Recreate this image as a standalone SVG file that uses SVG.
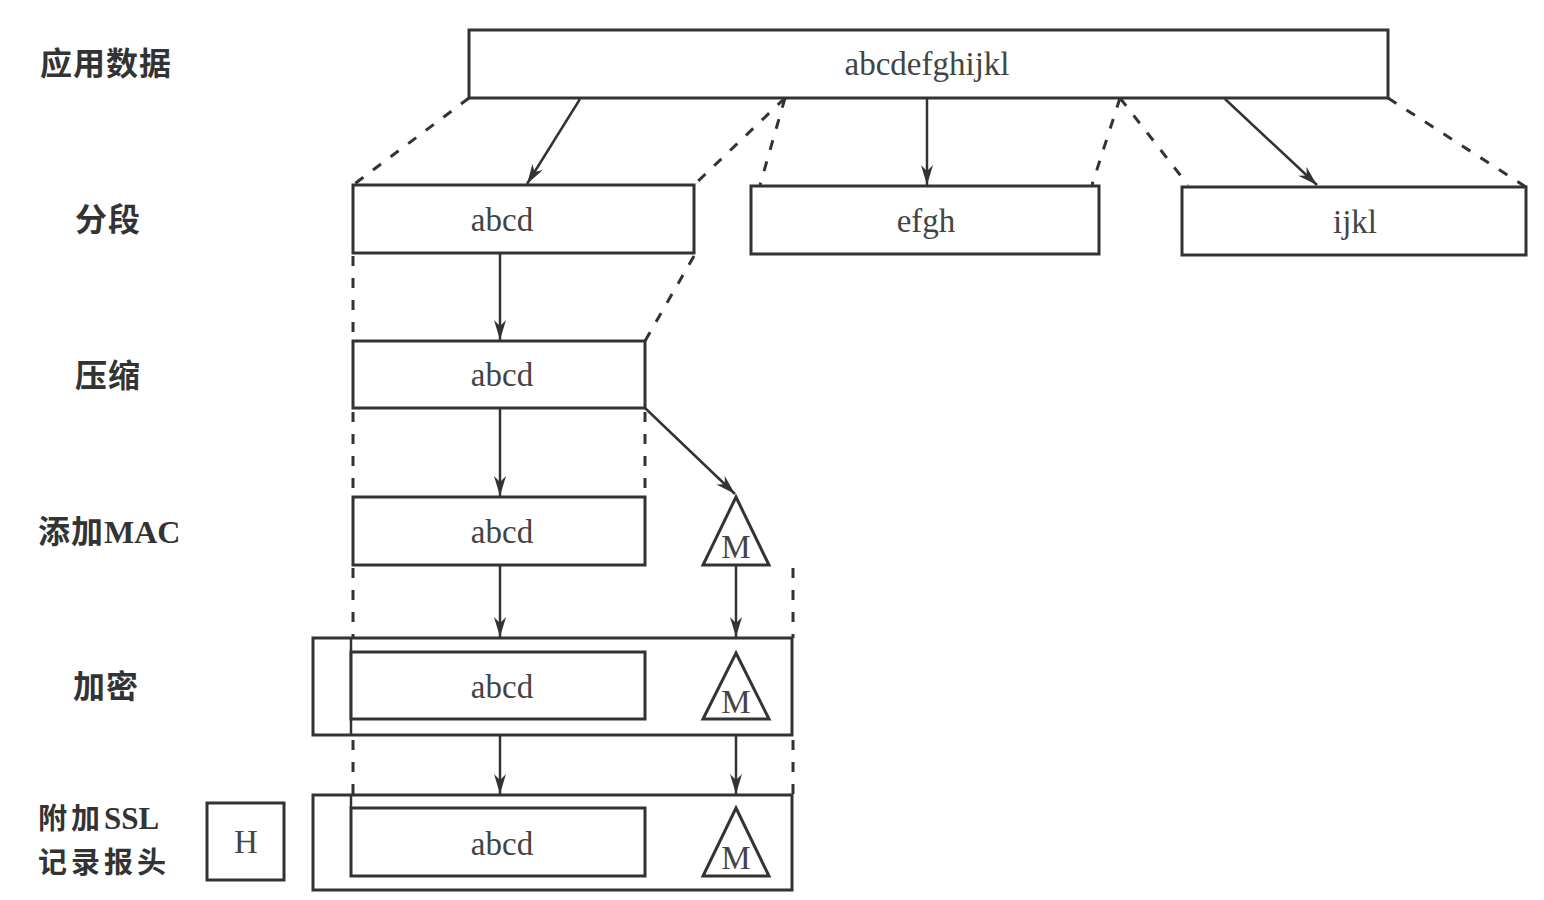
<svg xmlns="http://www.w3.org/2000/svg" width="1544" height="900" viewBox="0 0 1544 900">
<defs>
<style>
.box{fill:#fff;stroke:#333;stroke-width:3}
.ln{fill:none;stroke:#333;stroke-width:2.5}
.dash{fill:none;stroke:#333;stroke-width:3;stroke-dasharray:10 12}
.arr{fill:none;stroke:#333;stroke-width:2.5;marker-end:url(#ah)}
.t{font-family:"Liberation Serif","Noto Sans CJK SC",serif;font-size:33px;fill:#444;text-anchor:middle}
.lab{font-family:"Noto Sans CJK SC","Liberation Serif",sans-serif;font-size:32px;fill:#333;font-weight:bold;letter-spacing:1px}
.lab2{font-family:"Noto Sans CJK SC","Liberation Serif",sans-serif;font-size:29px;fill:#333;font-weight:bold;letter-spacing:4px}
.lat{font-family:"Liberation Serif",serif;letter-spacing:0px}
</style>
<marker id="ah" viewBox="0 0 20 12" refX="20" refY="6" markerWidth="20" markerHeight="12" markerUnits="userSpaceOnUse" orient="auto">
<path d="M0,0 L20,6 L0,12 L6,6 Z" fill="#333"/>
</marker>
</defs>
<rect width="1544" height="900" fill="#fff"/>

<g id="labels">
<text class="lab" x="40" y="75">应用数据</text>
<text class="lab" x="75" y="231">分段</text>
<text class="lab" x="75" y="387">压缩</text>
<text class="lab" x="38" y="543"><tspan>添加</tspan><tspan class="lat">MAC</tspan></text>
<text class="lab" x="73" y="698">加密</text>
<text class="lab2" x="38" y="829"><tspan>附加</tspan><tspan class="lat" font-size="31">SSL</tspan></text>
<text class="lab2" x="38" y="873">记录报头</text>
</g>

<g id="connectors">
<line class="dash" x1="469" y1="98" x2="353" y2="185"/>
<line class="dash" x1="785" y1="98" x2="694" y2="185"/>
<line class="dash" x1="785" y1="98" x2="760" y2="185"/>
<line class="dash" x1="1120" y1="98" x2="1092" y2="185"/>
<line class="dash" x1="1120" y1="98" x2="1188" y2="185"/>
<line class="dash" x1="1388" y1="98" x2="1526" y2="187"/>
<line class="arr" x1="580" y1="99" x2="527" y2="184"/>
<line class="arr" x1="927" y1="99" x2="927" y2="185"/>
<line class="arr" x1="1225" y1="99" x2="1317" y2="185"/>

<line class="dash" x1="353" y1="256" x2="353" y2="341"/>
<line class="dash" x1="694" y1="256" x2="645" y2="341"/>
<line class="arr" x1="500" y1="254" x2="500" y2="340"/>

<line class="dash" x1="353" y1="412" x2="353" y2="497"/>
<line class="dash" x1="645" y1="412" x2="645" y2="497"/>
<line class="arr" x1="500" y1="409" x2="500" y2="496"/>
<line class="arr" x1="645" y1="408" x2="735" y2="494"/>

<line class="dash" x1="353" y1="568" x2="353" y2="638"/>
<line class="dash" x1="793" y1="568" x2="793" y2="638"/>
<line class="arr" x1="500" y1="566" x2="500" y2="637"/>
<line class="arr" x1="736" y1="566" x2="736" y2="637"/>

<line class="dash" x1="353" y1="740" x2="353" y2="795"/>
<line class="dash" x1="793" y1="740" x2="793" y2="795"/>
<line class="arr" x1="500" y1="736" x2="500" y2="794"/>
<line class="arr" x1="736" y1="736" x2="736" y2="794"/>
</g>

<g id="app-data">
<rect class="box" x="469" y="30" width="919" height="68"/>
<text class="t" x="927" y="75">abcdefghijkl</text>
</g>

<g id="seg1"><rect class="box" x="353" y="185" width="341" height="68"/><text class="t" x="502" y="231">abcd</text></g>
<g id="seg2"><rect class="box" x="751" y="186" width="348" height="68"/><text class="t" x="926" y="232">efgh</text></g>
<g id="seg3"><rect class="box" x="1182" y="187" width="344" height="68"/><text class="t" x="1355" y="233">ijkl</text></g>

<g id="compress"><rect class="box" x="353" y="341" width="292" height="67"/><text class="t" x="502" y="386">abcd</text></g>

<g id="mac-data"><rect class="box" x="353" y="497" width="292" height="68"/><text class="t" x="502" y="543">abcd</text></g>
<g id="mac1"><polygon class="box" points="736,497 769,565 703,565"/><text class="t" x="736" y="558">M</text></g>

<g id="encrypt">
<rect class="box" x="313" y="638" width="479" height="97"/>
<line class="ln" x1="351" y1="638" x2="351" y2="735"/>
<rect class="box" x="351" y="652" width="294" height="67"/>
<text class="t" x="502" y="698">abcd</text>
<polygon class="box" points="736,653 769,719 703,719"/>
<text class="t" x="736" y="713">M</text>
</g>

<g id="record">
<rect class="box" x="313" y="795" width="479" height="95"/>
<line class="ln" x1="351" y1="795" x2="351" y2="808"/>
<rect class="box" x="351" y="808" width="294" height="68"/>
<text class="t" x="502" y="855">abcd</text>
<polygon class="box" points="736,808 769,876 703,876"/>
<text class="t" x="736" y="869">M</text>
</g>

<g id="header"><rect class="box" x="207" y="803" width="77" height="77"/><text class="t" x="246" y="853">H</text></g>
</svg>
